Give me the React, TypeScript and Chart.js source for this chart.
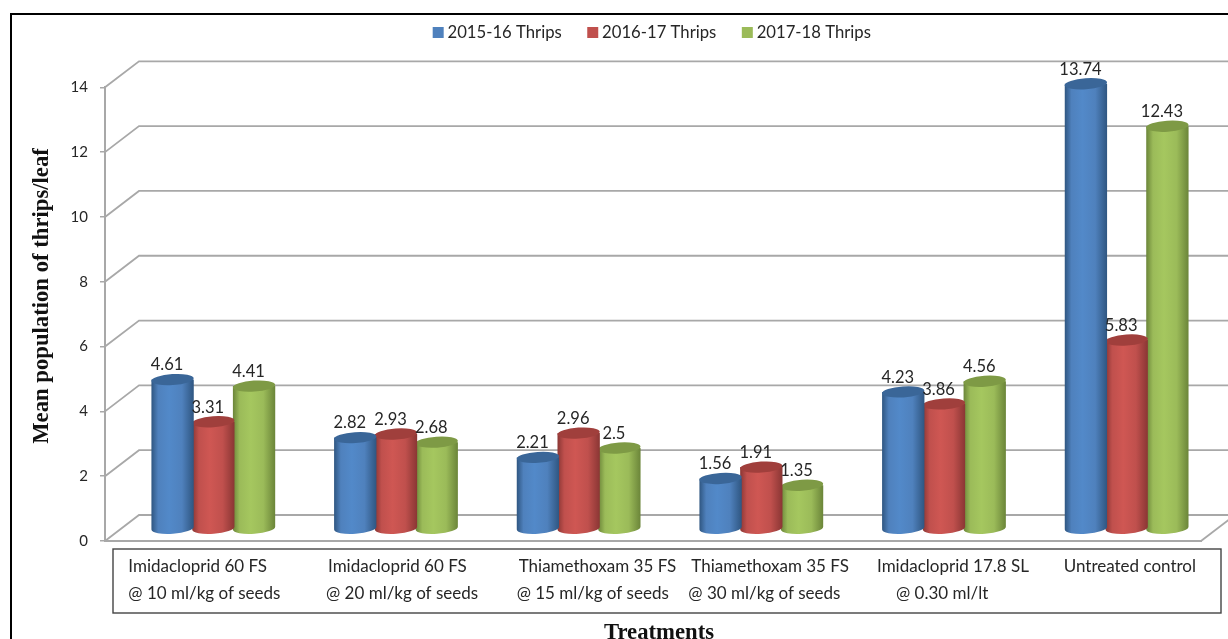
import React, { useEffect, useRef } from "react";
import { Chart, registerables } from "chart.js";

Chart.register(...registerables);

// Treatments, two lines each
const categories = [
  ["Imidacloprid 60 FS", "@ 10 ml/kg of seeds"],
  ["Imidacloprid 60 FS", "@ 20 ml/kg of seeds"],
  ["Thiamethoxam 35 FS", "@ 15 ml/kg of seeds"],
  ["Thiamethoxam 35 FS", "@ 30 ml/kg of seeds"],
  ["Imidacloprid 17.8 SL", "@ 0.30 ml/lt"],
  ["Untreated control", ""],
];

const thrips201516 = [4.61, 2.82, 2.21, 1.56, 4.23, 13.74];
const thrips201617 = [3.31, 2.93, 2.96, 1.91, 3.86, 5.83];
const thrips201718 = [4.41, 2.68, 2.5, 1.35, 4.56, 12.43];

const seriesNames = ["2015-16 Thrips", "2016-17 Thrips", "2017-18 Thrips"];
const yTicks = [0, 2, 4, 6, 8, 10, 12, 14];
const yAxisTitle = "Mean population of thrips/leaf";
const xAxisTitle = "Treatments";

// Cylinder shading: base, edge and cap tones per series
const palette = [
  { base: "#4f81bd", light: "#5289c9", edge: "#2f5681", cap: "#3a6698" },
  { base: "#c0504d", light: "#cf5753", edge: "#8a3634", cap: "#a03f3c" },
  { base: "#9bbb59", light: "#a5c75f", edge: "#6b8539", cap: "#7e9a45" },
];

const SANS = "Lato, sans-serif";
const SERIF = "'Liberation Serif', serif";
const TEXT = "#262626";
const GRID = "#a8a8a8";

// Depth of the 3D box: how far the back wall sits from the front axes
const WALL_DX = 34;
const WALL_DY = -26;
// Where the cylinders stand inside that depth
const BAR_DX = 17;
const BAR_DY = -12;
const CAP_RY = 5.5;
const CAP_TILT = -0.07;

// Left edge of each label line relative to its category centre
const labelShift = [
  [-68, -68],
  [-51, -53],
  [-43, -45],
  [-53, -56],
  [-50, -31],
  [-46, 0],
];

// Legend swatch: a small square set off-centre so it hugs its label
function makeSwatch(color: string) {
  const c = document.createElement("canvas");
  c.width = 22;
  c.height = 11;
  const g = c.getContext("2d")!;
  g.fillStyle = color;
  g.fillRect(10, 0, 11, 11);
  return c;
}

const boxPlugin = {
  id: "box3d",
  afterLayout(chart: any) {
    // The legend sits high above the plot, in the band over the back wall
    chart.legend.top = 3;
    chart.legend.left -= 3.5;
    chart.legend.right -= 3.5;
  },
  beforeDatasetsDraw(chart: any) {
    const { ctx, chartArea, scales } = chart;
    ctx.save();
    ctx.strokeStyle = GRID;
    ctx.lineWidth = 1.8;
    for (const v of yTicks) {
      const y = scales.y.getPixelForValue(v);
      ctx.beginPath();
      ctx.moveTo(chartArea.left, y);
      ctx.lineTo(chartArea.left + WALL_DX, y + WALL_DY);
      ctx.lineTo(chart.width, y + WALL_DY);
      ctx.stroke();
    }
    const y0 = scales.y.getPixelForValue(0);
    ctx.beginPath();
    ctx.moveTo(chartArea.right, y0);
    ctx.lineTo(chartArea.right + WALL_DX, y0 + WALL_DY);
    ctx.stroke();
    ctx.restore();
  },
  beforeDatasetDraw(chart: any) {
    chart.ctx.save();
    chart.ctx.translate(BAR_DX, BAR_DY);
  },
  afterDatasetDraw(chart: any, args: any) {
    const { ctx } = chart;
    const tone = palette[args.index];
    for (const bar of args.meta.data) {
      const { x, y, base, width } = bar.getProps(["x", "y", "base", "width"], true);
      const rx = width / 2 + 0.8;
      const grad = ctx.createLinearGradient(x - rx, 0, x + rx, 0);
      grad.addColorStop(0, tone.edge);
      grad.addColorStop(0.16, tone.base);
      grad.addColorStop(0.42, tone.light);
      grad.addColorStop(0.72, tone.base);
      grad.addColorStop(1, tone.edge);
      ctx.fillStyle = grad;
      ctx.beginPath();
      ctx.moveTo(x - rx, y);
      ctx.lineTo(x - rx, base);
      ctx.ellipse(x, base, rx, CAP_RY, CAP_TILT, Math.PI, 0, true);
      ctx.lineTo(x + rx, y);
      ctx.closePath();
      ctx.fill();
      ctx.fillStyle = tone.cap;
      ctx.beginPath();
      ctx.ellipse(x, y, rx, CAP_RY, CAP_TILT, 0, Math.PI * 2);
      ctx.fill();
    }
    ctx.restore();
  },
  afterDatasetsDraw(chart: any) {
    const { ctx, scales } = chart;
    ctx.save();
    // Value labels over each cylinder
    ctx.font = `16.5px ${SANS}`;
    ctx.fillStyle = TEXT;
    ctx.textAlign = "center";
    ctx.textBaseline = "middle";
    chart.data.datasets.forEach((ds: any, d: number) => {
      chart.getDatasetMeta(d).data.forEach((bar: any, i: number) => {
        ctx.fillText(String(ds.data[i]), bar.x + BAR_DX - 5.5, bar.y + BAR_DY - 14.5);
      });
    });
    // Boxed treatment labels
    ctx.font = `17px ${SANS}`;
    ctx.strokeStyle = "#444444";
    ctx.lineWidth = 1.4;
    ctx.strokeRect(113, 549, 1108, 64);
    ctx.textAlign = "left";
    categories.forEach((lines, i) => {
      const cx = scales.x.getPixelForValue(i);
      lines.forEach((line, l) => {
        ctx.fillText(line, cx + labelShift[i][l], l === 0 ? 567 : 594);
      });
    });
    // Axis titles
    ctx.font = `bold 22.7px ${SERIF}`;
    ctx.fillStyle = "#111111";
    ctx.textAlign = "center";
    ctx.fillText(xAxisTitle, 659, 633);
    ctx.translate(42, 296);
    ctx.rotate(-Math.PI / 2);
    ctx.fillText(yAxisTitle, 0, 0);
    ctx.setTransform(1, 0, 0, 1, 0, 0);
    // Outer frame
    ctx.strokeStyle = "#000000";
    ctx.lineWidth = 2;
    ctx.beginPath();
    ctx.moveTo(11, chart.height);
    ctx.lineTo(11, 14);
    ctx.lineTo(chart.width, 14);
    ctx.stroke();
    ctx.restore();
  },
};

export default function App() {
  const ref = useRef<HTMLCanvasElement>(null);
  useEffect(() => {
    const swatches = palette.map((p) => makeSwatch(p.base));
    const chart = new Chart(ref.current!, {
      type: "bar",
      plugins: [boxPlugin],
      data: {
        labels: categories.map((c) => c.join(" ")),
        datasets: [thrips201516, thrips201617, thrips201718].map((data, i) => ({
          label: seriesNames[i],
          data,
          backgroundColor: palette[i].base,
          barPercentage: 1,
          categoryPercentage: 0.669,
          clip: false as any,
        })),
      },
      options: {
        responsive: false,
        animation: false,
        layout: { padding: { left: 28, right: 27, top: 39.6, bottom: 0 } },
        plugins: {
          tooltip: { enabled: false },
          legend: {
            position: "top",
            fullSize: false,
            labels: {
              usePointStyle: true,
              pointStyleWidth: 11,
              boxHeight: 11,
              padding: 21,
              color: TEXT,
              font: { family: SANS, size: 16.7 },
              generateLabels: (c: any) =>
                Chart.defaults.plugins.legend.labels
                  .generateLabels(c)
                  .map((item: any, i: number) => ({ ...item, pointStyle: swatches[i] })),
            },
          },
        },
        scales: {
          x: {
            grid: { display: false },
            border: { color: GRID, width: 2 },
            ticks: { display: false },
            afterFit: (s: any) => {
              s.height = 98;
            },
          },
          y: {
            min: 0,
            max: 14,
            ticks: {
              stepSize: 2,
              color: TEXT,
              padding: 12,
              font: { family: SANS, size: 15 },
            },
            grid: { drawOnChartArea: false, tickLength: 5, color: GRID, lineWidth: 1.5 },
            border: { color: GRID, width: 2 },
            afterFit: (s: any) => {
              s.width = 77;
            },
          },
        },
      },
    });
    return () => chart.destroy();
  }, []);
  return (
    <div style={{ position: "fixed", left: 0, top: 0, width: 1228, height: 639, background: "#fff" }}>
      <canvas ref={ref} width={1228} height={639} style={{ display: "block" }} />
    </div>
  );
}
